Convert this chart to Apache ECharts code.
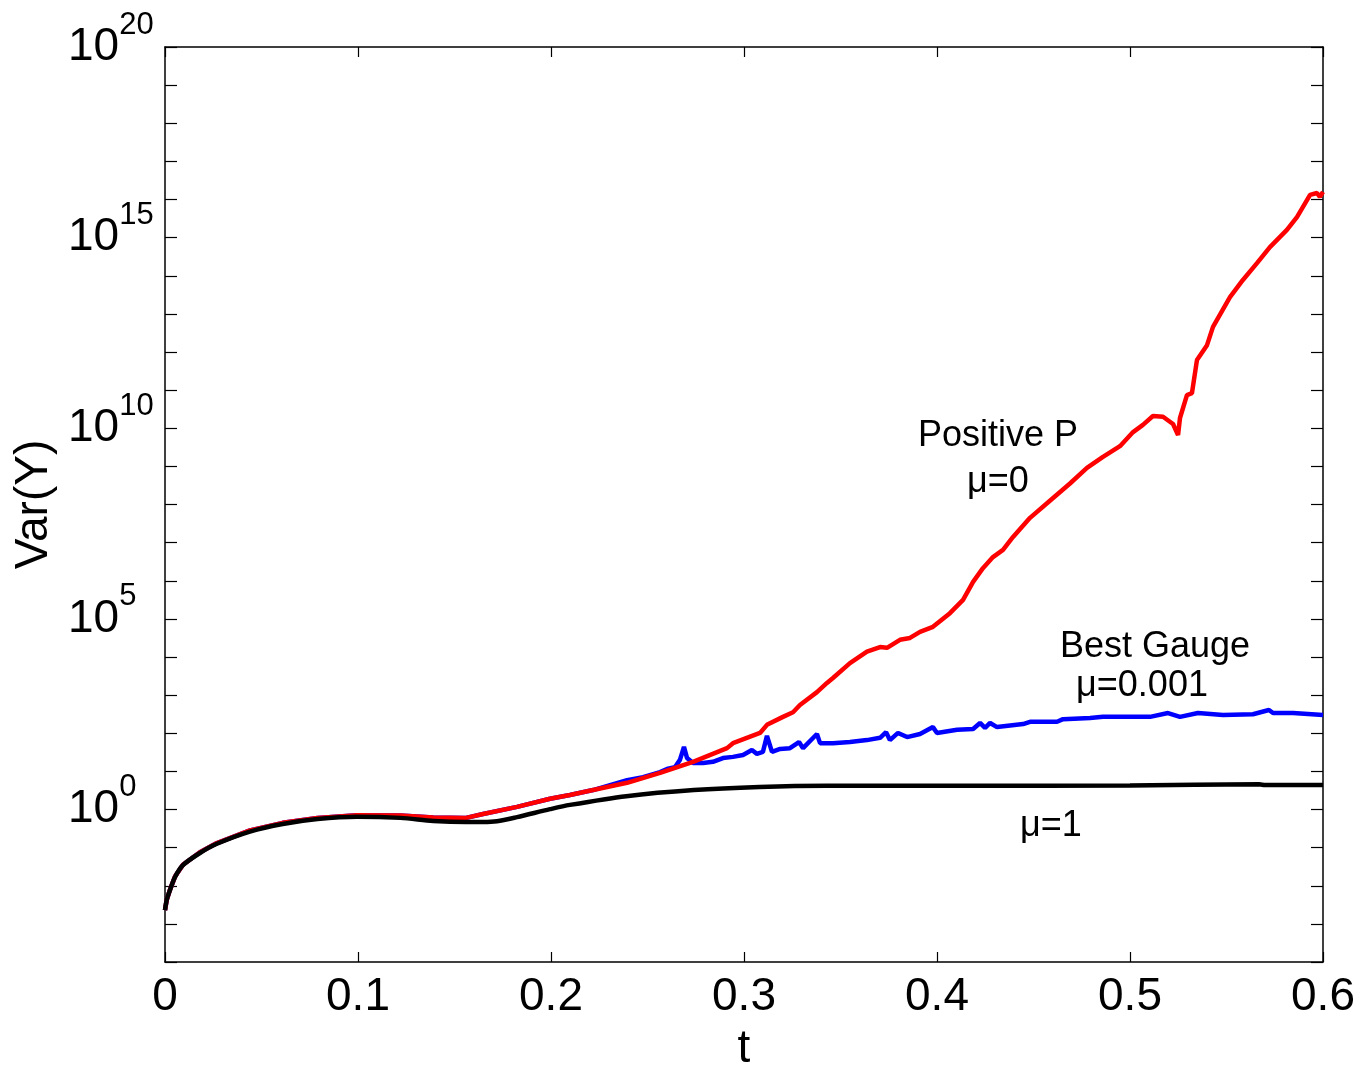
<!DOCTYPE html>
<html><head><meta charset="utf-8">
<script src="https://cdn.jsdelivr.net/npm/echarts@6/dist/echarts.min.js"></script>
<style>html,body{margin:0;padding:0;background:#fff}#c{width:1364px;height:1065px}</style>
</head><body><div id="c"></div>
<script>
// ---- data (t, Var(Y)) ----
const blackT = [0, 0.0009, 0.0026, 0.0052, 0.0093, 0.0181, 0.0269, 0.044, 0.061, 0.079, 0.0995, 0.122, 0.139, 0.156, 0.1648, 0.172, 0.1824, 0.1995, 0.2098, 0.239, 0.274, 0.308, 0.343, 0.412, 0.5, 0.567, 0.57, 0.6];
const blackV = [2.29e-3, 4.27e-3, 7.76e-3, 1.70e-2, 3.47e-2, 7.24e-2, 1.26e-1, 2.63e-1, 4.17e-1, 5.62e-1, 6.46e-1, 6.03e-1, 5.01e-1, 4.68e-1, 4.68e-1, 4.90e-1, 6.31e-1, 1.02, 1.32, 2.24, 3.24, 3.89, 4.17, 4.17, 4.27, 4.57, 4.37, 4.37];

const redT = [0, 0.0009, 0.0026, 0.0052, 0.0093, 0.0181, 0.0269, 0.044, 0.061, 0.079, 0.0995, 0.122, 0.139, 0.156, 0.1648, 0.1824, 0.1995, 0.2098, 0.2218, 0.2394, 0.2565, 0.2736, 0.2912, 0.2943, 0.3083, 0.3119, 0.3202, 0.3254, 0.329, 0.3378, 0.343, 0.3461, 0.3549, 0.3637, 0.3705, 0.3741, 0.3808, 0.386, 0.3912, 0.3979, 0.4067, 0.4135, 0.4187, 0.4238, 0.429, 0.4342, 0.4394, 0.4482, 0.4585, 0.4689, 0.4777, 0.486, 0.4948, 0.5016, 0.5067, 0.5119, 0.5171, 0.5223, 0.5249, 0.5259, 0.5295, 0.5321, 0.5347, 0.5399, 0.543, 0.5518, 0.5585, 0.5658, 0.5725, 0.5813, 0.5865, 0.5933, 0.5969, 0.5984, 0.6];
const redV = [2.29e-3, 4.27e-3, 7.94e-3, 1.74e-2, 3.55e-2, 7.59e-2, 1.32e-1, 2.82e-1, 4.47e-1, 6.03e-1, 7.08e-1, 6.92e-1, 6.17e-1, 6.03e-1, 7.59e-1, 1.17, 1.91, 2.40, 3.24, 5.01, 9.12, 17.8, 40.7, 55.0, 102, 166, 269, 355, 550, 1.20e3, 2.09e3, 2.82e3, 6.92e3, 1.38e4, 1.82e4, 1.74e4, 2.82e4, 3.16e4, 4.57e4, 6.17e4, 1.41e5, 3.16e5, 9.33e5, 2.14e6, 4.17e6, 6.46e6, 1.41e7, 4.47e7, 1.26e8, 3.55e8, 9.12e8, 1.78e9, 3.39e9, 7.94e9, 1.23e10, 2.09e10, 2.00e10, 1.29e10, 6.61e9, 1.86e10, 7.41e10, 8.32e10, 6.17e11, 1.51e12, 4.57e12, 2.75e13, 7.76e13, 2.14e14, 5.62e14, 1.59e15, 3.47e15, 1.32e16, 1.48e16, 1.18e16, 1.59e16];

const blueT = [0, 0.0009, 0.0026, 0.0052, 0.0093, 0.0181, 0.0269, 0.044, 0.061, 0.079, 0.0995, 0.122, 0.139, 0.156, 0.1648, 0.1824, 0.1995, 0.2098, 0.2218, 0.2394, 0.2477, 0.2565, 0.2601, 0.2642, 0.2668, 0.2689, 0.2705, 0.2736, 0.2788, 0.2839, 0.2891, 0.2943, 0.2995, 0.3041, 0.3067, 0.3098, 0.3119, 0.3145, 0.3187, 0.3238, 0.3285, 0.3306, 0.3378, 0.3394, 0.3461, 0.3549, 0.3637, 0.3705, 0.3736, 0.3756, 0.3798, 0.3845, 0.3912, 0.3979, 0.4, 0.4104, 0.4187, 0.4223, 0.4249, 0.4275, 0.4311, 0.4446, 0.4482, 0.4622, 0.4653, 0.4793, 0.486, 0.4964, 0.5104, 0.5197, 0.5259, 0.5352, 0.5482, 0.5637, 0.572, 0.5741, 0.5845, 0.6];
const blueV = [2.29e-3, 4.27e-3, 7.94e-3, 1.74e-2, 3.55e-2, 7.59e-2, 1.32e-1, 2.82e-1, 4.47e-1, 6.03e-1, 7.08e-1, 6.92e-1, 6.17e-1, 6.03e-1, 7.59e-1, 1.17, 1.91, 2.40, 3.24, 5.89, 7.08, 9.55, 11.5, 12.9, 20.0, 43.7, 22.4, 16.6, 16.6, 17.8, 22.4, 24.0, 26.9, 36.3, 28.8, 32.4, 85.1, 32.4, 38.9, 40.7, 58.9, 40.7, 95.5, 55.0, 55.0, 58.9, 66.1, 75.9, 107, 66.1, 102, 79.4, 95.5, 145, 102, 123, 129, 186, 138, 186, 145, 174, 200, 200, 234, 251, 269, 269, 269, 339, 269, 339, 302, 316, 407, 339, 339, 302];

const xTickLabels = ['0', '0.1', '0.2', '0.3', '0.4', '0.5', '0.6'];
const yLabelExponents = [0, 5, 10, 15, 20];

const annotations = [
  { text: 'Positive P', x: 998, y: 436 },
  { text: 'μ=0', x: 998, y: 482 },
  { text: 'Best Gauge', x: 1155, y: 647 },
  { text: 'μ=0.001', x: 1142, y: 686 },
  { text: 'μ=1', x: 1051, y: 826 }
];

const FONT = '"Liberation Sans", Arial, Helvetica, sans-serif';
const pairs = (t, v) => t.map((x, i) => [x, v[i]]);

const baseX = {
  type: 'value', min: 0, max: 0.6, interval: 0.1,
  axisLine: { show: true, onZero: false, lineStyle: { color: '#000', width: 1.5 } },
  axisTick: { show: true, inside: true, length: 10, lineStyle: { color: '#000', width: 1.2 } },
  splitLine: { show: false }
};
const baseY = {
  type: 'log', logBase: 10, min: 1e-4, max: 1e20, interval: 1,
  axisLine: { show: true, onZero: false, lineStyle: { color: '#000', width: 1.5 } },
  axisTick: { show: true, inside: true, length: 12, lineStyle: { color: '#000', width: 1.2 } },
  splitLine: { show: false }, minorTick: { show: false }
};

const chart = echarts.init(document.getElementById('c'), null, { renderer: 'canvas' });
chart.setOption({
  animation: false,
  backgroundColor: '#fff',
  grid: { left: 165, right: 41, top: 47, bottom: 103, containLabel: false, outerBoundsMode: 'none' },
  xAxis: [
    Object.assign({}, baseX, {
      position: 'bottom',
      axisLabel: {
        fontSize: 46, color: '#000', fontFamily: FONT, margin: 12,
        formatter: (v) => { const i = Math.round(v * 10); return xTickLabels[i] !== undefined ? xTickLabels[i] : ''; }
      },
      name: 't', nameLocation: 'middle', nameGap: 64,
      nameTextStyle: { fontSize: 46, color: '#000', fontFamily: FONT }
    }),
    Object.assign({}, baseX, { position: 'top', axisLabel: { show: false } })
  ],
  yAxis: [
    Object.assign({}, baseY, {
      position: 'left',
      axisLabel: {
        margin: 97, align: 'left', color: '#000', fontFamily: FONT,
        formatter: (v) => {
          const e = Math.round(Math.log10(v));
          return yLabelExponents.indexOf(e) >= 0 ? '{b|10}{s|' + e + '}' : '';
        },
        rich: {
          b: { fontSize: 46, fontFamily: FONT, color: '#000', verticalAlign: 'middle' },
          s: { fontSize: 31, fontFamily: FONT, color: '#000', verticalAlign: 'top', padding: [0, 0, 44, 0] }
        }
      },
      name: 'Var(Y)', nameLocation: 'middle', nameGap: 100, nameRotate: 90,
      nameTextStyle: { fontSize: 46, color: '#000', fontFamily: FONT }
    }),
    Object.assign({}, baseY, { position: 'right', axisLabel: { show: false } })
  ],
  series: [
    { name: 'Best Gauge', type: 'line', xAxisIndex: 0, yAxisIndex: 0, data: pairs(blueT, blueV), showSymbol: false, symbol: 'none', lineStyle: { color: '#0000ff', width: 4.5 }, itemStyle: { color: '#0000ff' }, z: 2 },
    { name: 'Positive P', type: 'line', xAxisIndex: 0, yAxisIndex: 0, data: pairs(redT, redV), showSymbol: false, symbol: 'none', lineStyle: { color: '#ff0000', width: 4.5 }, itemStyle: { color: '#ff0000' }, z: 3 },
    { name: 'mu=1', type: 'line', xAxisIndex: 0, yAxisIndex: 0, data: pairs(blackT, blackV), showSymbol: false, symbol: 'none', smooth: 0.3, lineStyle: { color: '#000000', width: 4.5 }, itemStyle: { color: '#000' }, z: 4 }
  ],
  graphic: annotations.map(a => ({
    type: 'text', x: a.x, y: a.y, z: 10,
    style: { text: a.text, font: '36px ' + FONT, fill: '#000', align: 'center', verticalAlign: 'middle' }
  }))
});
</script>
</body></html>
